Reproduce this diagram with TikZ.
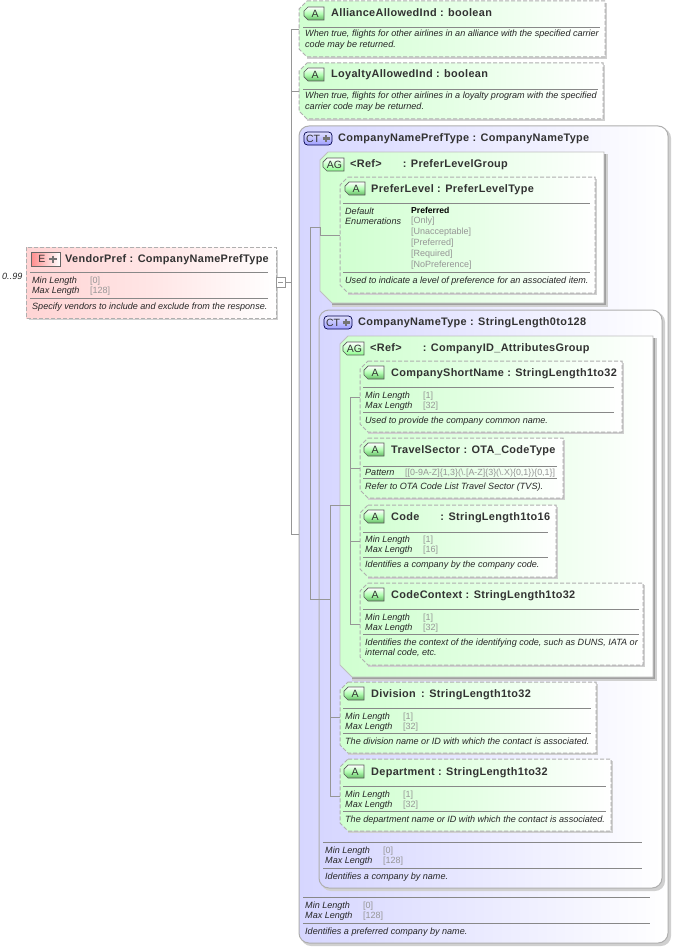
\documentclass[tikz,border=0pt]{standalone}
\usepackage{fontspec}
\setmainfont{Liberation Sans}
\newfontfamily\ttlfont[LetterSpace=3]{Liberation Sans}
\definecolor{gA}{RGB}{208,255,208}
\definecolor{gB}{RGB}{214,214,255}
\definecolor{gE}{RGB}{255,212,212}
\definecolor{edge}{RGB}{175,175,175}
\definecolor{rule}{RGB}{136,136,136}
\definecolor{wire}{RGB}{150,150,150}
\definecolor{shad}{RGB}{208,208,208}
\definecolor{txt}{RGB}{50,50,50}
\definecolor{val}{RGB}{150,150,150}
\tikzset{
  x=1pt,y=-1pt,
  ttl/.style={anchor=base west,inner sep=0pt,font=\ttlfont\bfseries\fontsize{10.9}{12}\selectfont,text=txt},
  lab/.style={anchor=base west,inner sep=0pt,font=\itshape\fontsize{9.06}{10}\selectfont,text=black!85},
  vals/.style={anchor=base west,inner sep=0pt,font=\fontsize{9}{10}\selectfont,text=val},
  def/.style={anchor=base west,inner sep=0pt,font=\bfseries\fontsize{8.6}{10}\selectfont,text=black},
  ruleline/.style={draw=rule,line width=0.8pt},
  wireline/.style={draw=wire,line width=0.8pt},
  dashedge/.style={draw=edge,line width=1pt,dash pattern=on 4pt off 2pt},
  icontxt/.style={inner sep=0pt,font=\fontsize{10.5}{12}\selectfont,text=black!80},
}
% chamfered box with dashed outline
\newcommand{\chambox}[7]{% name x1 y1 x2 y2 colour fadecolour
  \fill[shad] (#2+8,#3+2) -- (#4+2,#3+2) -- (#4+2,#5+2) -- (#2+8,#5+2) -- cycle;
  \path[left color=#6,right color=white,middle color=#6!55!white]
     (#2+8,#3) -- (#4,#3) -- (#4,#5) -- (#2+8,#5) -- (#2,#5-8) -- (#2,#3+8) -- cycle;
  \path[dashedge] (#2+8,#3) -- (#4,#3) -- (#4,#5) -- (#2+8,#5) -- (#2,#5-8) -- (#2,#3+8) -- cycle;
  \coordinate (#1) at (#2,#3+30);
}
\newcommand{\agbox}[5]{% name x1 y1 x2 y2
  \fill[shad] (#2+12,#3+2) -- (#4+4,#3+2) -- (#4+4,#5+4) -- (#2+12,#5+4) -- cycle;
  \fill[rule!80] (#2+12,#3+2) -- (#4+2,#3+2) -- (#4+2,#5+2) -- (#2+12,#5+2) -- cycle;
  \path[left color=gA,right color=white,middle color=gA!55!white]
     (#2+8,#3) -- (#4,#3) -- (#4,#5) -- (#2+12,#5) -- (#2,#5-12) -- (#2,#3+8) -- cycle;
  \draw[edge!80,line width=0.8pt] (#2+8,#3) -- (#4,#3) -- (#4,#5) -- (#2+12,#5) -- (#2,#5-12) -- (#2,#3+8) -- cycle;
  \coordinate (#1) at (#2,#3+30);
}
\newcommand{\ctbox}[5]{% name x1 y1 x2 y2
  \fill[shad,rounded corners=10pt] (#2+2,#3+2) rectangle (#4+3,#5+3);
  \path[left color=gB,right color=white,middle color=gB!50!white,rounded corners=10pt] (#2,#3) rectangle (#4,#5);
  \draw[edge,line width=1pt,rounded corners=10pt] (#2,#3) rectangle (#4,#5);
  \coordinate (#1) at (#2,#3+30);
}
% icons
\newcommand{\aicon}[3]{% name x y(top)
  \path[draw=black!65,line width=0.7pt,top color=white,bottom color=green!55!black!60,middle color=green!30!white]
    (#2+4,#3) -- (#2+20,#3) -- (#2+20,#3+13) -- (#2+4,#3+13) -- (#2,#3+9) -- (#2,#3+4) -- cycle;
  \node[icontxt] (#1) at (#2+11,#3+7) {A};
}
\newcommand{\agicon}[3]{%
  \path[draw=black!65,line width=0.7pt,top color=white,bottom color=green!45!white]
    (#2+4,#3) -- (#2+21,#3) -- (#2+21,#3+13) -- (#2+4,#3+13) -- (#2,#3+9) -- (#2,#3+4) -- cycle;
  \node[icontxt] (#1) at (#2+11.5,#3+7) {AG};
}
\newcommand{\cticon}[3]{%
  \path[draw=black!70!blue,line width=0.7pt,top color=blue!12!white,bottom color=blue!38!white,rounded corners=3.5pt] (#2,#3) rectangle (#2+28,#3+13);
  \node[icontxt] (#1) at (#2+9,#3+7) {CT};
  \draw[black!55,line width=2.6pt] (#2+18.5,#3+6.5) -- (#2+25.5,#3+6.5) (#2+22,#3+3) -- (#2+22,#3+10);
}
% rows
\newcommand{\minmax}[6]{% name x y(min baseline) valx minval maxval
  \node[lab] (#1-mn) at (#2,#3) {Min Length};
  \node[lab] (#1-mx) at (#2,#3+10.3) {Max Length};
  \node[vals] (#1-mnv) at (#4,#3) {[#5]};
  \node[vals] (#1-mxv) at (#4,#3+10.3) {[#6]};
}
\newcommand{\rl}[3]{\path[ruleline] (#1,#3) -- (#2,#3);}
\begin{document}
\begin{tikzpicture}
\useasboundingbox (0,0) rectangle (674,947);
\fill[white] (0,0) rectangle (674,947);

% top-level wires
\coordinate (hub) at (291,282);
\coordinate (jA) at (291,29);
\coordinate (jB) at (291,91);
\coordinate (jC) at (291,534);

% VendorPref
\fill[shad] (29,250) rectangle (278,320);
\path[left color=gE,right color=white,middle color=gE!60!white] (26,247) rectangle (276,318);
\path[dashedge] (26,247) rectangle (276,318);
\coordinate (vp) at (285,282);
\path[draw=wire,fill=white,line width=0.8pt] (276,277.5) rectangle (285,287.5);
\path[wireline] (278,282) -- (283,282);
\path[left color=red!45!white,right color=white,draw=black!60,line width=0.7pt] (31,252) rectangle (60,266);
\node[icontxt] (vpi) at (42,259) {E};
\draw[black!55,line width=2.6pt] (49,259) -- (57,259) (53,255.5) -- (53,262.5);
\node[ttl] (vpt) at (65,262) {VendorPref : CompanyNamePrefType};
\rl{30}{268}{272}
\minmax{vp}{32}{283}{90}{0}{128}
\rl{30}{268}{298}
\node[lab] (vpd) at (32,309) {Specify vendors to include and exclude from the response.};
\node[lab] (card) at (2,279) {0..99};

% AllianceAllowedInd
\chambox{alli}{299}{1}{605}{57}{gA}{}
\aicon{alliI}{304}{7}
\node[ttl] (allit) at (331,17) {AllianceAllowedInd : boolean};
\rl{303}{600}{27}
\node[lab] (allid1) at (305,37) {When true, flights for other airlines in an alliance with the specified carrier};
\node[lab] (allid2) at (305,48) {code may be returned.};

% LoyaltyAllowedInd
\chambox{loy}{299}{63}{603}{119}{gA}{}
\aicon{loyI}{304}{68}
\node[ttl] (loyt) at (331,78) {LoyaltyAllowedInd : boolean};
\rl{303}{598}{89}
\node[lab] (loyd1) at (305,99) {When true, flights for other airlines in a loyalty program with the specified};
\node[lab] (loyd2) at (305,110) {carrier code may be returned.};

% CompanyNamePrefType
\ctbox{cnp}{299}{126}{668}{943}
\cticon{cnpI}{304}{132}
\node[ttl] (cnpt) at (338,141) {CompanyNamePrefType : CompanyNameType};

% wires in CompanyNamePrefType
\coordinate (sA) at (310,227);
\coordinate (sB) at (310,599);
\draw[wireline] (sA) -- (sB);

% PreferLevelGroup
\agbox{plg}{320}{152}{604}{303}
\agicon{plgI}{323}{158}
\node[ttl] (plgt) at (350,167) {<Ref>\hspace{21pt}: PreferLevelGroup};
\chambox{pl}{340}{177}{595}{293}{gA}{}
\aicon{plI}{345}{182}
\node[ttl] (plt) at (371,192) {PreferLevel : PreferLevelType};
\rl{343}{590}{203}
\node[lab] (pld1) at (345,214) {Default};
\node[lab] (pld2) at (345,224) {Enumerations};
\node[def] (plv0) at (411,213) {Preferred};
\node[vals] (plv1) at (411,223.5) {[Only]};
\node[vals] (plv2) at (411,234.5) {[Unacceptable]};
\node[vals] (plv3) at (411,245.3) {[Preferred]};
\node[vals] (plv4) at (411,256) {[Required]};
\node[vals] (plv5) at (411,267) {[NoPreference]};
\rl{343}{590}{272}
\node[lab] (pldd) at (345,283) {Used to indicate a level of preference for an associated item.};
\coordinate (plgw) at (320,227);
\coordinate (plgw2) at (320,235);
\coordinate (plw) at (340,235);
\draw[wireline] (sA) -- (plgw) -- (plgw2) -- (plw);

% CompanyNameType
\ctbox{cn}{319}{310}{662}{888}
\cticon{cnI}{324}{316}
\node[ttl] (cnt) at (358,325) {CompanyNameType : StringLength0to128};
\coordinate (cnw) at (319,599);
\draw[wireline] (sB) -- (cnw);

% wires in CompanyNameType
\coordinate (tA) at (330,505);
\coordinate (tB) at (330,717);
\coordinate (tC) at (330,796);
\coordinate (tD) at (350,505);
\draw[wireline] (tA) -- (tC);
\draw[wireline] (cnw) -- (330,599);

% CompanyID_AttributesGroup
\agbox{cig}{340}{336}{653}{677}
\agicon{cigI}{343}{342}
\node[ttl] (cigt) at (370,351) {<Ref>\hspace{21pt}: CompanyID\_AttributesGroup};
\coordinate (uA) at (350,397);
\coordinate (uB) at (350,468);
\coordinate (uC) at (350,541);
\coordinate (uD) at (350,624);
\draw[wireline] (tA) -- (tD);
\draw[wireline] (uA) -- (uD);

\chambox{csn}{360}{361}{622}{432}{gA}{}
\aicon{csnI}{364}{366}
\node[ttl] (csnt) at (391,376) {CompanyShortName : StringLength1to32};
\rl{363}{614}{387}
\minmax{csn}{365}{398}{423}{1}{32}
\rl{363}{614}{412}
\node[lab] (csnd) at (365,423) {Used to provide the company common name.};

\chambox{ts}{360}{438}{563}{498}{gA}{}
\aicon{tsI}{364}{443}
\node[ttl] (tst) at (391,453) {TravelSector : OTA\_CodeType};
\rl{363}{557}{466}
\node[lab] (tsp) at (365,475) {Pattern};
\node[vals] (tspv) at (405,475) {\fontsize{8.9}{10}\selectfont[[0-9A-Z]\{1,3\}(\textbackslash.[A-Z]\{3\}(\textbackslash.X)\{0,1\})\{0,1\}]};
\rl{363}{557}{478}
\node[lab] (tsd) at (365,489) {Refer to OTA Code List Travel Sector (TVS).};

\chambox{co}{360}{505}{556}{577}{gA}{}
\aicon{coI}{364}{510}
\node[ttl] (cot) at (391,520) {Code\hspace{21pt}: StringLength1to16};
\rl{363}{548}{532}
\minmax{co}{365}{542}{423}{1}{16}
\rl{363}{548}{557}
\node[lab] (cod) at (365,567) {Identifies a company by the company code.};

\chambox{cc}{360}{583}{643}{665}{gA}{}
\aicon{ccI}{364}{588}
\node[ttl] (cct) at (391,598) {CodeContext : StringLength1to32};
\rl{363}{639}{609}
\minmax{cc}{365}{620}{423}{1}{32}
\rl{363}{639}{634}
\node[lab] (ccd1) at (365,645) {Identifies the context of the identifying code, such as DUNS, IATA or};
\node[lab] (ccd2) at (365,655) {internal code, etc.};

\draw[wireline] (uA) -- (360,397);
\draw[wireline] (uB) -- (360,468);
\draw[wireline] (uC) -- (360,541);
\draw[wireline] (uD) -- (360,624);

% Division
\chambox{dv}{340}{682}{596}{753}{gA}{}
\aicon{dvI}{344}{687}
\node[ttl] (dvt) at (371,697) {Division\hspace{2pt} : StringLength1to32};
\rl{343}{591}{708}
\minmax{dv}{345}{719}{403}{1}{32}
\rl{343}{591}{733}
\node[lab] (dvd) at (345,744) {The division name or ID with which the contact is associated.};

% Department
\chambox{dp}{340}{759}{611}{831}{gA}{}
\aicon{dpI}{344}{765}
\node[ttl] (dpt) at (371,775) {Department : StringLength1to32};
\rl{343}{606}{786}
\minmax{dp}{345}{797}{403}{1}{32}
\rl{343}{606}{811}
\node[lab] (dpd) at (345,822) {The department name or ID with which the contact is associated.};

\coordinate (dvw) at (340,717);
\coordinate (dpw) at (340,796);
\draw[wireline] (tB) -- (dvw);
\draw[wireline] (tC) -- (dpw);

% footer of CompanyNameType
\rl{323}{642}{842}
\minmax{cnf}{325}{853}{383}{0}{128}
\rl{323}{642}{868}
\node[lab] (cnd) at (325,879) {Identifies a company by name.};

% footer of CompanyNamePrefType
\rl{303}{650}{897}
\minmax{cnpf}{305}{908}{363}{0}{128}
\rl{303}{650}{923}
\node[lab] (cnpd) at (305,934) {Identifies a preferred company by name.};

% top-level connectors
\draw[wireline] (vp) -- (hub);
\draw[wireline] (jA) -- (jC);
\draw[wireline] (jA) -- (299,29);
\draw[wireline] (jB) -- (299,91);
\draw[wireline] (jC) -- (299,534);
\end{tikzpicture}
\end{document}
